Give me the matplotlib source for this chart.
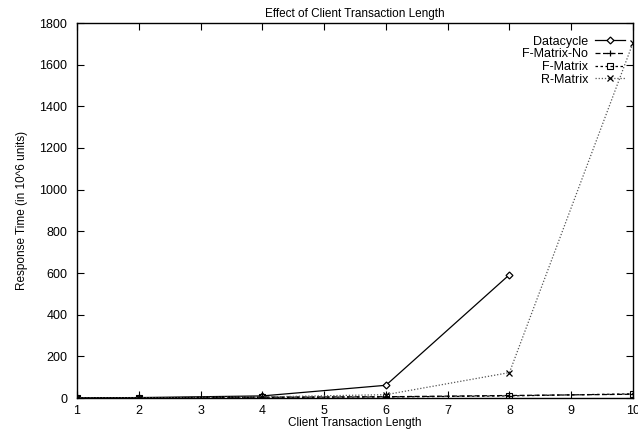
import matplotlib
matplotlib.use("Agg")
import matplotlib.pyplot as plt
import numpy as np

plt.rcParams['font.family'] = ['Liberation Sans', 'DejaVu Sans']

x_vals = [1, 2, 4, 6, 8, 10]
datacycle_x = [1, 2, 4, 6, 8]
datacycle = [1, 2, 10, 61, 592]
fmatrix_no = [0.5, 1, 4, 6, 12, 18]
fmatrix = [0.5, 1, 3, 5, 10, 20]
rmatrix = [0.5, 1, 5, 16, 122, 1705]
x_ticks = [1, 2, 3, 4, 5, 6, 7, 8, 9, 10]
y_ticks = [0, 200, 400, 600, 800, 1000, 1200, 1400, 1600, 1800]

fig = plt.figure(figsize=(6.38, 4.36), dpi=100)
ax = fig.add_axes([77/638, 1-398/436, (633-77)/638, (398-23)/436])

ax.plot(datacycle_x, datacycle, color='black', lw=0.9, ls='-', marker='D', ms=3.5,
        mfc='white', mec='black', mew=0.9, label='Datacycle')
ax.plot(x_vals, fmatrix_no, color='black', lw=0.9, ls=(0, (4, 2)), marker='+', ms=5,
        mew=0.9, label='F-Matrix-No')
ax.plot(x_vals, fmatrix, color='black', lw=0.9, ls=(0, (2, 2)), marker='s', ms=4.5,
        mfc='none', mec='black', mew=0.8, label='F-Matrix')
ax.plot(x_vals, rmatrix, color='#555555', lw=0.9, ls=(0, (1, 1.5)), marker='x', ms=4.5,
        mec='black', mew=0.9, label='R-Matrix')

ax.set_xlim(1, 10)
ax.set_ylim(0, 1800)
ax.set_xticks(x_ticks)
ax.set_yticks(y_ticks)
ax.tick_params(direction='in', top=True, right=True, labelsize=9, length=5, width=0.8)
ax.tick_params(axis='y', pad=7)
ax.tick_params(axis='x', pad=5)
for s in ax.spines.values():
    s.set_linewidth(1.0)

ax.set_title('Effect of Client Transaction Length', fontsize=8.5, pad=4)
ax.set_xlabel('Client Transaction Length', fontsize=8.5, labelpad=0)
ax.set_ylabel('Response Time (in 10^6 units)', fontsize=8.5, labelpad=8)

leg = ax.legend(loc='upper right', markerfirst=False, frameon=False, fontsize=9,
                handlelength=2.4, handletextpad=0.5, labelspacing=0.05,
                borderaxespad=0.5, alignment='right',
                bbox_to_anchor=(1.005, 0.996))
for t in leg.get_texts():
    t.set_ha('right')

fig.savefig('out.png', dpi=100)
